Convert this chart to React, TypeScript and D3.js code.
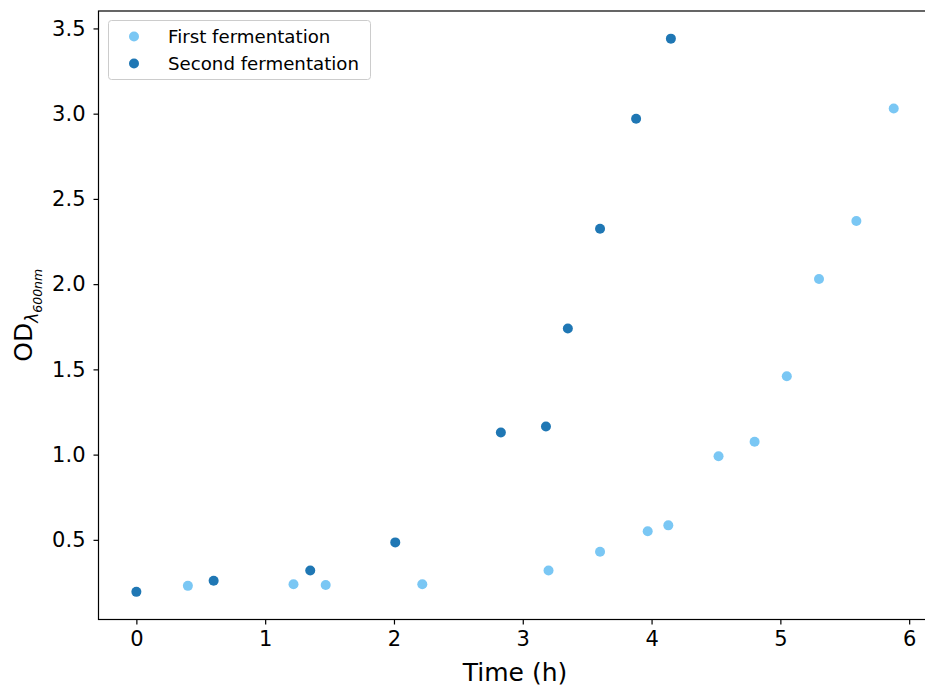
import React, { useRef, useEffect } from 'react';
import * as d3 from 'd3';

// first fermentation (light blue)
const firstTime = [0.4, 1.22, 1.47, 2.22, 3.2, 3.6, 3.97, 4.13, 4.52, 4.8, 5.05, 5.3, 5.59, 5.88];
const firstOD = [0.23, 0.24, 0.235, 0.24, 0.32, 0.43, 0.55, 0.585, 0.99, 1.075, 1.46, 2.03, 2.37, 3.03];

// second fermentation (dark blue)
const secondTime = [0, 0.6, 1.35, 2.01, 2.83, 3.18, 3.35, 3.6, 3.88, 4.15];
const secondOD = [0.195, 0.26, 0.32, 0.485, 1.13, 1.165, 1.74, 2.325, 2.97, 3.44];

const xTicks = [0, 1, 2, 3, 4, 5, 6];
const yTicks = [0.5, 1.0, 1.5, 2.0, 2.5, 3.0, 3.5];

const seriesNames = ['First fermentation', 'Second fermentation'];
const colors = ['#7ac7f4', '#1f77b4'];

const App = () => {
    const svgRef = useRef<SVGSVGElement>(null);
    const width = 925;
    const height = 686;

    useEffect(() => {
        const svg = d3.select(svgRef.current);
        svg.selectAll('*').remove();

        const marginLeft = 98.5;
        const marginTop = 11;
        const marginBottom = 66.5;

        const series = [
            firstTime.map((t, i) => ({ t, v: firstOD[i] })),
            secondTime.map((t, i) => ({ t, v: secondOD[i] })),
        ];
        const all = series.flat();

        // matplotlib-like 5% margins
        const [xmin, xmax] = d3.extent(all, d => d.t) as [number, number];
        const [ymin, ymax] = d3.extent(all, d => d.v) as [number, number];
        const xpad = (xmax - xmin) * 0.05;
        const ypad = (ymax - ymin) * 0.05;

        const xRight = marginLeft + 128.8 * (xmax - xmin + 2 * xpad);
        const x = d3.scaleLinear()
            .domain([xmin - xpad, xmax + xpad])
            .range([marginLeft, xRight]);
        const y = d3.scaleLinear()
            .domain([ymin - ypad, ymax + ypad])
            .range([height - marginBottom, marginTop]);

        const font = 'DejaVu Sans, sans-serif';

        // points
        series.forEach((s, k) => {
            svg.append('g')
                .attr('fill', colors[k])
                .selectAll('circle')
                .data(s)
                .join('circle')
                .attr('cx', d => x(d.t))
                .attr('cy', d => y(d.v))
                .attr('r', 5);
        });

        // frame
        svg.append('rect')
            .attr('x', x.range()[0])
            .attr('y', y.range()[1])
            .attr('width', x.range()[1] - x.range()[0])
            .attr('height', y.range()[0] - y.range()[1])
            .attr('fill', 'none')
            .attr('stroke', '#000')
            .attr('stroke-width', 1.2);

        // axes
        const xAxis = svg.append('g')
            .attr('transform', `translate(0,${y.range()[0]})`)
            .call(d3.axisBottom(x).tickValues(xTicks).tickFormat(d3.format('d')).tickSize(5).tickPadding(7))
            .call(g => g.select('.domain').remove());
        xAxis.selectAll('line').attr('stroke-width', 1.2);
        xAxis.selectAll('text').attr('font-family', font).attr('font-size', 21).attr('fill', '#000');

        const yAxis = svg.append('g')
            .attr('transform', `translate(${x.range()[0]},0)`)
            .call(d3.axisLeft(y).tickValues(yTicks).tickFormat(d3.format('.1f')).tickSize(5).tickPadding(8))
            .call(g => g.select('.domain').remove());
        yAxis.selectAll('line').attr('stroke-width', 1.2);
        yAxis.selectAll('text').attr('font-family', font).attr('font-size', 21).attr('fill', '#000');

        // axis labels
        svg.append('text')
            .attr('x', 515)
            .attr('y', 681)
            .attr('text-anchor', 'middle')
            .attr('font-family', font)
            .attr('font-size', 25)
            .text('Time (h)');

        const yl = svg.append('text')
            .attr('transform', `translate(32,${(y.range()[0] + y.range()[1]) / 2}) rotate(-90)`)
            .attr('text-anchor', 'middle')
            .attr('font-family', font)
            .attr('font-size', 25);
        yl.append('tspan').text('OD');
        yl.append('tspan')
            .attr('font-size', 17)
            .attr('font-style', 'italic')
            .attr('dy', 6)
            .text('λ');
        yl.append('tspan')
            .attr('font-size', 12.5)
            .attr('font-style', 'italic')
            .attr('dy', 4)
            .text('600nm');

        // legend
        const legend = svg.append('g');
        legend.append('rect')
            .attr('x', 108.5)
            .attr('y', 20.5)
            .attr('width', 262)
            .attr('height', 59)
            .attr('rx', 3)
            .attr('fill', '#fff')
            .attr('fill-opacity', 0.8)
            .attr('stroke', '#cccccc');
        seriesNames.forEach((name, k) => {
            const cy = 36.5 + k * 27;
            legend.append('circle')
                .attr('cx', 134)
                .attr('cy', cy)
                .attr('r', 5)
                .attr('fill', colors[k]);
            legend.append('text')
                .attr('x', 168)
                .attr('y', cy + 6.5)
                .attr('font-family', font)
                .attr('font-size', 18.2)
                .attr('fill', '#000')
                .text(name);
        });
    }, []);

    return (
        <svg
            ref={svgRef}
            width={width}
            height={height}
            style={{ position: 'absolute', left: 0, top: 0, background: '#fff' }}
        />
    );
};

export default App;
